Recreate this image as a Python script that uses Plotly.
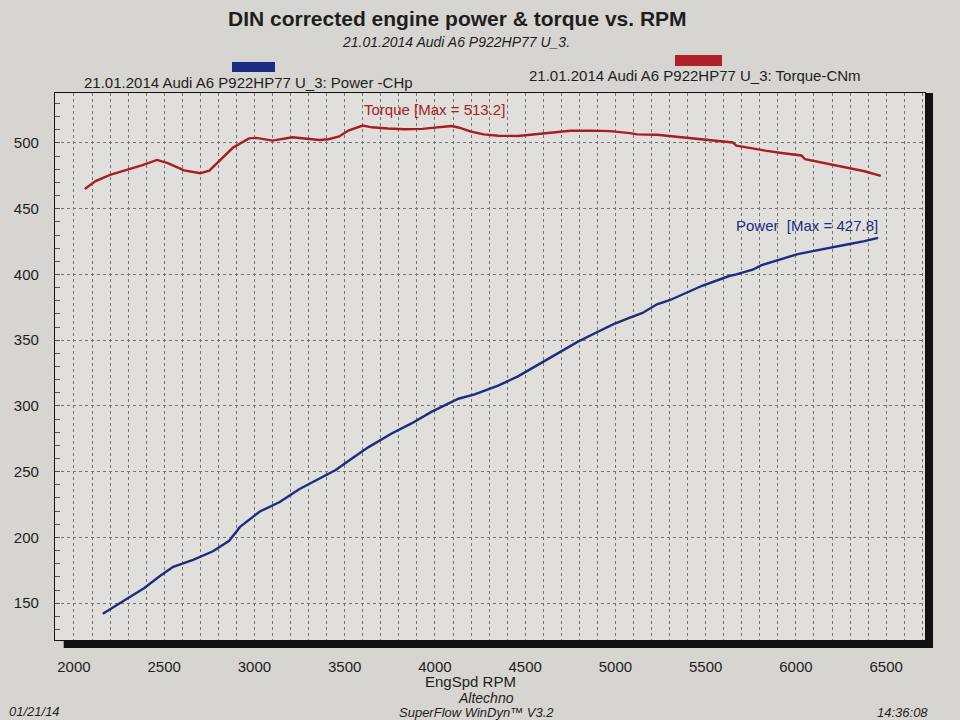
import plotly.graph_objects as go

# ---- Data read from the dyno sheet ----
torque_rpm = [2060, 2120, 2200, 2300, 2380, 2460, 2520, 2610, 2700, 2750, 2830, 2880,
              2970, 3010, 3100, 3210, 3360, 3410, 3470, 3520, 3600, 3650, 3740, 3830,
              3930, 4020, 4090, 4130, 4200, 4270, 4350, 4460, 4570, 4660, 4750, 4860,
              4970, 5080, 5120, 5230, 5370, 5450, 5560, 5650, 5670, 5740, 5830, 5920,
              6030, 6050, 6100, 6140, 6200, 6290, 6380, 6470]
torque_nm = [465.0, 471.0, 475.8, 479.6, 483.1, 487.1, 484.6, 479.1, 477.0, 478.9, 489.5, 496.3,
             503.5, 503.9, 501.8, 504.3, 502.3, 502.8, 505.0, 509.4, 513.2, 511.9, 511.0, 510.4,
             510.7, 511.8, 512.9, 511.8, 508.6, 506.5, 505.5, 505.3, 506.8, 508.6, 509.3, 509.4,
             509.0, 507.5, 506.5, 506.2, 504.4, 503.0, 501.7, 500.4, 498.0, 496.2, 494.2, 492.4,
             490.5, 487.7, 486.3, 484.7, 483.1, 481.0, 478.5, 474.9]

power_rpm = [2160, 2220, 2300, 2390, 2480, 2550, 2660, 2770, 2860, 2920, 3030, 3140,
             3250, 3360, 3450, 3540, 3630, 3760, 3870, 3980, 4130, 4220, 4350, 4460,
             4570, 4680, 4790, 4900, 4990, 5080, 5150, 5230, 5300, 5480, 5630, 5670,
             5760, 5810, 5920, 6010, 6100, 6180, 6290, 6380, 6455]
power_chp = [142.0, 147.0, 153.5, 161.5, 171.0, 177.7, 182.9, 189.5, 197.4, 208.0, 219.7, 226.9,
             236.9, 244.8, 251.3, 260.1, 268.5, 279.1, 286.7, 295.5, 305.5, 308.8, 315.5, 322.5,
             331.3, 340.0, 348.7, 356.2, 362.2, 367.1, 370.7, 377.3, 380.4, 391.4, 398.8, 400.0,
             403.6, 407.1, 411.9, 415.5, 417.9, 420.2, 423.0, 425.3, 427.8]

x_ticks = [2000, 2500, 3000, 3500, 4000, 4500, 5000, 5500, 6000, 6500]
y_ticks = [150, 200, 250, 300, 350, 400, 450, 500]

TORQUE_COLOR = "#a81d1f"
POWER_COLOR = "#1c2c82"
TEXT = "#1e1e1e"
GRID = "#77736e"
FONT = "Liberation Sans, Arial, sans-serif"

fig = go.Figure()
fig.add_trace(go.Scatter(x=torque_rpm, y=torque_nm, mode="lines",
                         line=dict(color=TORQUE_COLOR, width=2.4), name="Torque-CNm",
                         showlegend=False))
fig.add_trace(go.Scatter(x=power_rpm, y=power_chp, mode="lines",
                         line=dict(color=POWER_COLOR, width=2.4), name="Power -CHp",
                         showlegend=False))

L, R, T, B = 55, 35, 93, 80
W, H = 960, 720
pw, ph = W - L - R, H - T - B


def px(xp):
    return (xp - L) / pw


def py(yp):
    return (H - B - yp) / ph


fig.update_layout(
    width=W, height=H,
    margin=dict(l=L, r=R, t=T, b=B, autoexpand=False),
    paper_bgcolor="#d7d5d1",
    plot_bgcolor="#e1dfdb",
    font=dict(family=FONT, color=TEXT, size=14),
    showlegend=False,
)

fig.update_xaxes(
    range=[1895, 6715], tickvals=x_ticks, ticktext=[str(v) for v in x_ticks],
    showgrid=True, gridcolor=GRID, griddash="dot", gridwidth=1,
    minor=dict(dtick=100, tick0=0, showgrid=True, gridcolor=GRID, griddash="dot", gridwidth=1),
    showline=True, linecolor="#111", linewidth=1.2, mirror=True,
    ticks="", ticklabelstandoff=13, tickfont=dict(size=15, color=TEXT),
    zeroline=False, automargin=False,
)
fig.update_yaxes(
    range=[122, 538], tickvals=y_ticks, ticktext=[str(v) for v in y_ticks],
    showgrid=True, gridcolor=GRID, griddash="dot", gridwidth=1,
    minor=dict(dtick=10, tick0=0, ticks="inside", ticklen=5, tickcolor="#555", showgrid=False),
    showline=True, linecolor="#111", linewidth=1.2, mirror=True,
    ticks="", ticklabelstandoff=12, tickfont=dict(size=15, color=TEXT),
    zeroline=False, automargin=False,
)

# heavy bottom and right frame edges
fig.add_shape(type="rect", xref="paper", yref="paper", x0=0.01, x1=1.0092, y0=-0.0146, y1=0,
              fillcolor="#111", line=dict(width=0))
fig.add_shape(type="rect", xref="paper", yref="paper", x0=1.0, x1=1.0092, y0=-0.0146, y1=1.0,
              fillcolor="#111", line=dict(width=0))

# legend swatches
fig.add_shape(type="rect", xref="paper", yref="paper", x0=px(232), x1=px(275), y0=py(72), y1=py(62),
              fillcolor=POWER_COLOR, line=dict(width=0))
fig.add_shape(type="rect", xref="paper", yref="paper", x0=px(675), x1=px(722), y0=py(66), y1=py(55),
              fillcolor="#b0202a", line=dict(width=0))

ann = [
    dict(text="<b>DIN corrected engine power &amp; torque vs. RPM</b>", x=px(457), y=py(19), size=21),
    dict(text="<i>21.01.2014 Audi A6 P922HP77 U_3.</i>", x=px(456), y=py(42), size=14),
    dict(text="21.01.2014 Audi A6 P922HP77 U_3: Power -CHp", x=px(248), y=py(82), size=15),
    dict(text="21.01.2014 Audi A6 P922HP77 U_3: Torque-CNm", x=px(695), y=py(76), size=15),
    dict(text="EngSpd RPM", x=px(470), y=py(681), size=15),
    dict(text="<i>Altechno</i>", x=px(486), y=py(698), size=14),
    dict(text="<i>SuperFlow WinDyn™ V3.2</i>", x=px(476), y=py(712), size=13),
    dict(text="<i>01/21/14</i>", x=px(34), y=py(711), size=13),
    dict(text="<i>14:36:08</i>", x=px(902), y=py(712), size=13),
]
for a in ann:
    fig.add_annotation(text=a["text"], x=a["x"], y=a["y"], xref="paper", yref="paper",
                       showarrow=False, font=dict(size=a["size"], color=TEXT, family=FONT),
                       xanchor="center", yanchor="middle")

fig.add_annotation(text="Torque [Max = 513.2]", x=4000, y=525.5, xref="x", yref="y",
                   showarrow=False, font=dict(size=15, color=TORQUE_COLOR, family=FONT))
fig.add_annotation(text="Power  [Max = 427.8]", x=6060, y=437, xref="x", yref="y",
                   showarrow=False, font=dict(size=15, color=POWER_COLOR, family=FONT))

fig.write_html("out.html", config={"displayModeBar": False},
               post_script="document.body.style.margin='0px';document.body.style.overflow='hidden';")
